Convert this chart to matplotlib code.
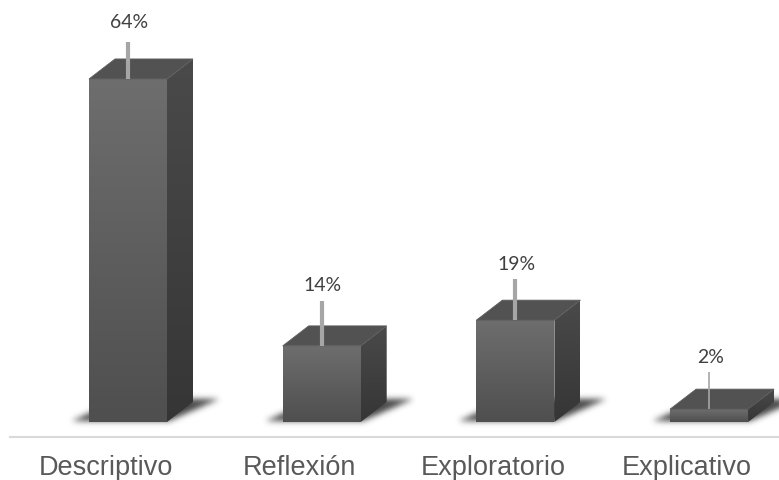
import numpy as np
import matplotlib
matplotlib.use('Agg')
import matplotlib.pyplot as plt
from matplotlib.patches import Polygon

categories = ['Descriptivo', 'Reflexión', 'Exploratorio', 'Explicativo']
values = [64, 14.2, 19, 2.4]
labels = ['64%', '14%', '19%', '2%']
leads = [37, 45, 41, 37]
label_gaps = [19, 15, 15, 15]

# pixels per unit, the axes fill the whole figure
px_x = 193.7
px_y = 5.36
fig = plt.figure(figsize=(7.79, 4.8), dpi=100)
ax = fig.add_axes([0, 0, 1, 1])
xlim = (-128 / px_x, (779 - 128) / px_x)
ylim = (-58 / px_y, 422 / px_y)

half = 39 / px_x
dx = 26 / px_x
dy = 20 / px_y


def gradient(poly, top, bottom, extent, zorder):
    ramp = np.linspace(0, 1, 64).reshape(-1, 1, 1)
    img = np.array(top) * (1 - ramp) + np.array(bottom) * ramp
    im = ax.imshow(img, extent=extent, aspect='auto', zorder=zorder, interpolation='bilinear')
    patch = Polygon(poly, closed=True, transform=ax.transData, fc='none', ec='none')
    ax.add_patch(patch)
    im.set_clip_path(patch)


def shadow_image(sigma=3.0):
    # blurred parallelogram, in pixels around the bar centre, rows from the top
    xs = np.arange(-80, 110)
    ys = np.arange(40, -20, -1)
    gx, gy = np.meshgrid(xs, ys)
    slant = 48 / 21
    left = -58 + gy * slant
    right = 40 + gy * slant
    mask = ((gy >= 1) & (gy <= 22) & (gx >= left) & (gx <= right)).astype(float)
    k = np.arange(-9, 10)
    kernel = np.exp(-k ** 2 / (2 * sigma ** 2))
    kernel /= kernel.sum()
    mask = np.apply_along_axis(lambda m: np.convolve(m, kernel, mode='same'), 0, mask)
    mask = np.apply_along_axis(lambda m: np.convolve(m, kernel, mode='same'), 1, mask)
    rgba = np.zeros(mask.shape + (4,))
    rgba[..., :3] = 0.2
    rgba[..., 3] = mask * 0.9
    return rgba, (xs[0] / px_x, xs[-1] / px_x, ys[-1] / px_y, ys[0] / px_y)


shadow, shadow_ext = shadow_image()

for i, v in enumerate(values):
    l, r = i - half, i + half
    ax.imshow(shadow, extent=(i + shadow_ext[0], i + shadow_ext[1], shadow_ext[2], shadow_ext[3]),
              aspect='auto', zorder=1, interpolation='bilinear')

    # the three faces of the box
    gradient([(l, 0), (r, 0), (r, v), (l, v)],
             (0.43, 0.43, 0.43), (0.31, 0.31, 0.31), (l, r, 0, v), 3)
    gradient([(r, 0), (r + dx, dy), (r + dx, v + dy), (r, v)],
             (0.29, 0.29, 0.29), (0.21, 0.21, 0.21), (r, r + dx, 0, v + dy), 3)
    ax.add_patch(Polygon([(l, v), (r, v), (r + dx, v + dy), (l + dx, v + dy)], closed=True,
                         fc='#525252', ec='#5e5e5e', lw=0.6, zorder=4))

    # leader line and data label
    lead = leads[i] / px_y
    ax.plot([i, i], [v, v + lead], color='#a6a6a6', lw=3 if v > 5 else 1.2, zorder=5, solid_capstyle='butt')
    ax.text(i + 1 / px_x, v + lead + label_gaps[i] / px_y, labels[i], ha='center', va='center',
            family='Lato', fontsize=14, color='#404040', zorder=6)
    ax.text(i - 22 / px_x, -46 / px_y, categories[i], ha='center', va='center',
            family='Liberation Sans', fontsize=19.5, color='#595959')

# category axis line
ax.plot([-118 / px_x, xlim[1]], [-15 / px_y, -15 / px_y], color='#d9d9d9', lw=1.5, zorder=2)

ax.set_xlim(xlim)
ax.set_ylim(ylim)
ax.axis('off')
fig.savefig('out.png', dpi=100)
